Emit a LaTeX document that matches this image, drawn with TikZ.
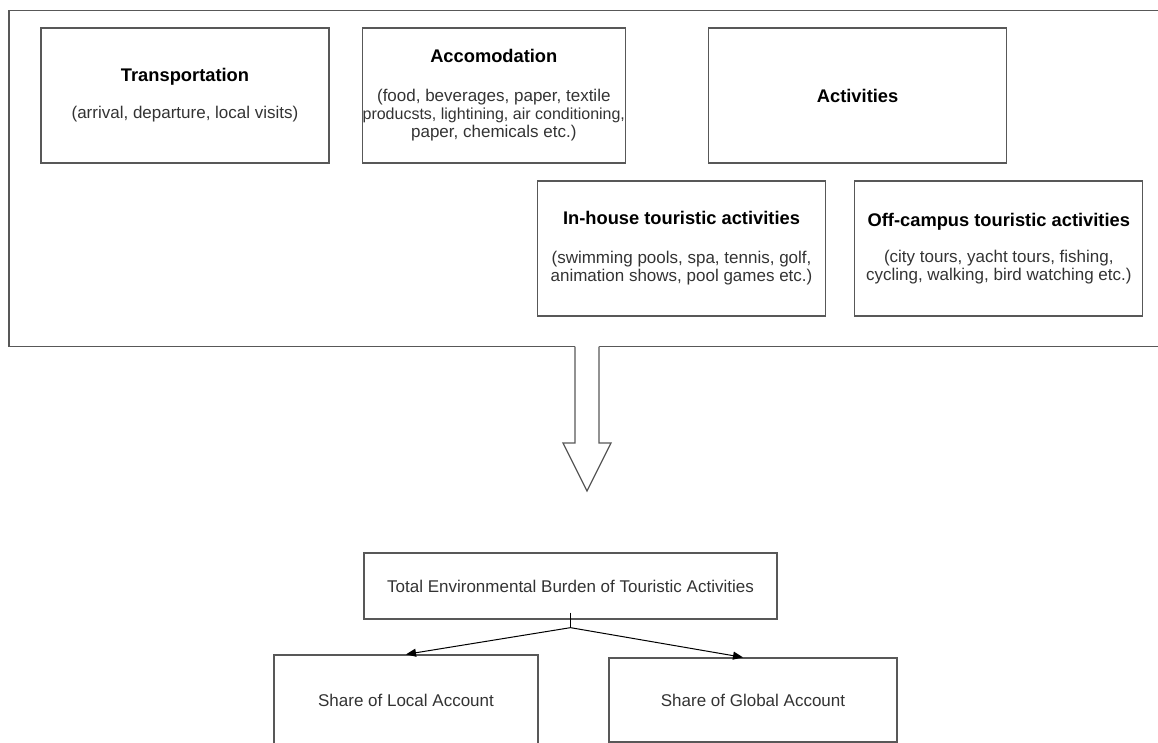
\documentclass[tikz,border=0pt]{standalone}
\usepackage{fontspec}
\setmainfont{Liberation Sans}
\usetikzlibrary{positioning,arrows.meta}
\definecolor{boxline}{HTML}{585858}
\definecolor{desctext}{HTML}{333333}
\newcommand{\boxtitle}[1]{\textcolor{black}{\fontsize{18.3}{20}\selectfont\bfseries #1}}

\begin{document}
\begin{tikzpicture}[
x=1pt, y=-1pt,
>={Triangle[length=10pt,width=8pt]},
box/.style={draw=boxline, line width=1.3pt, minimum width=288pt, minimum height=135pt,
  inner sep=0pt, align=center, text=desctext, font=\fontsize{17}{18}\selectfont},
plainbox/.style={box, minimum height=66pt},
arrow/.style={draw,->,line width=1pt}
]
\useasboundingbox (0,0) rectangle (1158,743);
\clip (0,0) rectangle (1158,743);

% outer frame
\draw[boxline, line width=1.3pt] (9,10.5) rectangle (1175,346.5);

\node[box] (transport) at (185,95.5) {\boxtitle{Transportation}\\[19pt](arrival, departure, local visits)};
\node[box, minimum width=263pt] (accom) [right=32pt of transport] {\boxtitle{Accomodation}\\[21pt](food, beverages, paper, textile\\\makebox[250pt]{\fontsize{16}{18}\selectfont producsts, lightining, air conditioning,}\\paper, chemicals etc.)};
\node[box, minimum width=298pt] (activ) [right=82pt of accom] {\boxtitle{Activities}};
\node[box] (inhouse) at (681.5,248.5) {\boxtitle{In-house touristic activities}\\[21pt](swimming pools, spa, tennis, golf,\\animation shows, pool games etc.)};
\node[box] (offcampus) [right=28pt of inhouse] {\boxtitle{Off-campus touristic activities}\\[18pt](city tours, yacht tours, fishing,\\cycling, walking, bird watching etc.)};

% hollow arrow
\fill[white] (575,345) -- (575,443) -- (563,443) -- (587,491) -- (611,443) -- (599,443) -- (599,345) -- cycle;
\draw[boxline, line width=1.3pt] (575,346.5) -- (575,443) -- (563,443) -- (587,491) -- (611,443) -- (599,443) -- (599,346.5);

\node[plainbox, minimum width=413pt] (total) at (570.5,586) {Total Environmental Burden of Touristic Activities};
\node[box, minimum width=264pt, minimum height=90pt] (local) at (406,700) {Share of Local Account};
\node[box, minimum height=84pt] (global) at (753,700) {Share of Global Account};

\coordinate (split) at ([yshift=-8pt]total.south);
\draw[line width=1pt] ([yshift=7pt]total.south) -- (split);
\path[arrow] (split) -- (local.north);
\path[arrow] (split) -- ([xshift=-10pt]global.north);

\end{tikzpicture}
\end{document}
